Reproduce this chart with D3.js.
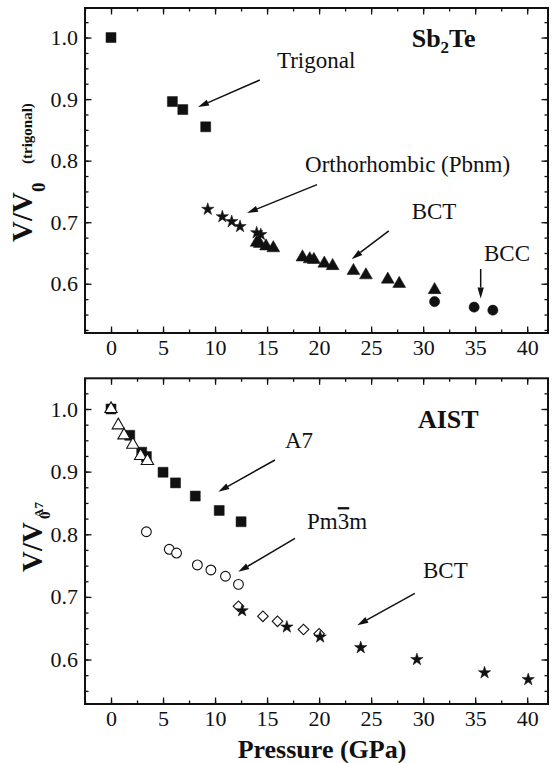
<!DOCTYPE html>
<html>
<head>
<meta charset="utf-8">
<script src="https://cdn.jsdelivr.net/npm/d3@7"></script>
<style>
  body { margin: 0; background: #fff; }
</style>
</head>
<body>
<svg id="chart" width="553" height="763"></svg>
<script>
// ---- data ----
// Sb2Te panel
const sbTrigP = [0, 5.9, 6.9, 9.1];
const sbTrigV = [1.0, 0.896, 0.883, 0.855];
const sbOrthoP = [9.3, 10.7, 11.6, 12.4, 14.0, 14.4];
const sbOrthoV = [0.721, 0.709, 0.701, 0.693, 0.683, 0.680];
const sbBctP = [14.0, 14.3, 14.9, 15.6, 18.4, 19.1, 19.5, 20.5, 21.3, 23.3, 24.5, 26.6, 27.7, 31.1];
const sbBctV = [0.667, 0.665, 0.661, 0.658, 0.643, 0.640, 0.639, 0.633, 0.629, 0.621, 0.614, 0.607, 0.600, 0.590];
const sbBccP = [31.1, 34.9, 36.7];
const sbBccV = [0.571, 0.562, 0.557];

// AIST panel
const aiA7P = [0, 1.8, 2.95, 3.4, 5.0, 6.2, 8.1, 10.4, 12.5];
const aiA7V = [1.0, 0.958, 0.931, 0.924, 0.899, 0.882, 0.861, 0.838, 0.820];
const aiA7bP = [0, 0.7, 1.25, 2.1, 2.85, 3.5];
const aiA7bV = [1.0, 0.974, 0.958, 0.943, 0.925, 0.917];
const aiPmP = [3.4, 5.6, 6.3, 8.3, 9.6, 11.0, 12.25];
const aiPmV = [0.804, 0.776, 0.770, 0.751, 0.743, 0.733, 0.720];
const aiDiaP = [12.25, 14.6, 16.0, 18.5, 20.0];
const aiDiaV = [0.685, 0.669, 0.661, 0.648, 0.641];
const aiBctP = [12.6, 16.9, 20.1, 24.0, 29.4, 35.9, 40.1];
const aiBctV = [0.678, 0.652, 0.636, 0.619, 0.600, 0.579, 0.568];

const xTicks = [0, 5, 10, 15, 20, 25, 30, 35, 40];
const yTicks = [0.6, 0.7, 0.8, 0.9, 1.0];

const FONT = "'Liberation Serif', Tinos, 'Times New Roman', Times, 'DejaVu Serif', serif";

const svg = d3.select("#chart");
const zip = (a, b) => a.map((v, i) => [v, b[i]]);

const x = d3.scaleLinear().domain([-2.5, 42]).range([85, 548]);

function panel(y, top, bottom) {
    const g = svg.append("g");
    const minorX = d3.range(-2.5, 42, 2.5);
    const minorY = d3.range(0.525, 1.05, 0.025).filter(v => v > y.domain()[0] && v < y.domain()[1]);

    // bottom axis with labels
    g.append("g").attr("transform", `translate(0,${bottom})`)
        .call(d3.axisBottom(x).tickValues(minorX).tickSize(-3.5).tickFormat(""));
    g.append("g").attr("transform", `translate(0,${bottom})`)
        .call(d3.axisBottom(x).tickValues(xTicks).tickSize(-6.5).tickPadding(6));
    // top axis, ticks only
    g.append("g").attr("transform", `translate(0,${top})`)
        .call(d3.axisTop(x).tickValues(minorX).tickSize(-3.5).tickFormat(""));
    g.append("g").attr("transform", `translate(0,${top})`)
        .call(d3.axisTop(x).tickValues(xTicks).tickSize(-6.5).tickFormat(""));
    // left axis
    g.append("g").attr("transform", `translate(${x.range()[0]},0)`)
        .call(d3.axisLeft(y).tickValues(minorY).tickSize(-3.5).tickFormat(""));
    g.append("g").attr("transform", `translate(${x.range()[0]},0)`)
        .call(d3.axisLeft(y).tickValues(yTicks).tickSize(-6.5).tickPadding(7).tickFormat(d3.format(".1f")));
    // right axis
    g.append("g").attr("transform", `translate(${x.range()[1]},0)`)
        .call(d3.axisRight(y).tickValues(minorY).tickSize(-3.5).tickFormat(""));
    g.append("g").attr("transform", `translate(${x.range()[1]},0)`)
        .call(d3.axisRight(y).tickValues(yTicks).tickSize(-6.5).tickFormat(""));

    g.selectAll(".domain").remove();
    g.selectAll(".tick line").attr("stroke", "#111").attr("stroke-width", 1.3);
    g.selectAll(".tick text")
        .attr("fill", "#111")
        .style("font-family", FONT)
        .style("font-size", "22px");

    g.append("rect")
        .attr("x", x.range()[0]).attr("y", top)
        .attr("width", x.range()[1] - x.range()[0]).attr("height", bottom - top)
        .attr("fill", "none").attr("stroke", "#111").attr("stroke-width", 2);
    return g;
}

function markers(g, y, px, py, type, size, filled, rotate) {
    g.append("g").selectAll("path")
        .data(zip(px, py))
        .join("path")
        .attr("d", d3.symbol().type(type).size(size))
        .attr("transform", d => `translate(${x(d[0])},${y(d[1])})` + (rotate ? ` rotate(${rotate})` : ""))
        .attr("fill", filled ? "#111" : "#fff")
        .attr("stroke", "#111")
        .attr("stroke-width", filled ? 0.5 : 1.1);
}

function arrow(g, y, x1, y1, x2, y2) {
    const ax = x(x1), ay = y(y1), bx = x(x2), by = y(y2);
    const ang = Math.atan2(by - ay, bx - ax);
    const len = 11, half = 3.2;
    const cx = bx - len * Math.cos(ang), cy = by - len * Math.sin(ang);
    g.append("line")
        .attr("x1", ax).attr("y1", ay).attr("x2", cx).attr("y2", cy)
        .attr("stroke", "#111").attr("stroke-width", 1.5);
    g.append("path")
        .attr("d", d3.line()([
            [bx, by],
            [cx - half * Math.sin(ang), cy + half * Math.cos(ang)],
            [cx + half * Math.sin(ang), cy - half * Math.cos(ang)]
        ]) + "Z")
        .attr("fill", "#111");
}

function label(g, y, px, py, txt, size, bold) {
    return g.append("text")
        .attr("x", x(px)).attr("y", y(py))
        .attr("fill", "#111")
        .style("font-family", FONT)
        .style("font-size", size + "px")
        .style("font-weight", bold ? "bold" : "normal")
        .text(txt);
}

// ---- top panel: Sb2Te ----
const yTop = d3.scaleLinear().domain([0.52, 1.048]).range([333, 8]);
const gTop = panel(yTop, 8, 333);

markers(gTop, yTop, sbTrigP, sbTrigV, d3.symbolSquare, 100, true);
markers(gTop, yTop, sbOrthoP, sbOrthoV, d3.symbolStar, 48, true);
markers(gTop, yTop, sbBctP, sbBctV, d3.symbolTriangle, 72, true);
markers(gTop, yTop, sbBccP, sbBccV, d3.symbolCircle, 82, true);

label(gTop, yTop, 15.95, 0.9506, "Trigonal", 23);
arrow(gTop, yTop, 14.3, 0.931, 8.36, 0.887);
const sbt = label(gTop, yTop, 28.9, 0.985, "Sb", 26, true);
sbt.append("tspan").style("font-size", "17px").attr("dy", 6).text("2");
sbt.append("tspan").attr("dy", -6).text("Te");
label(gTop, yTop, 18.65, 0.782, "Orthorhombic (Pbnm)", 23);
arrow(gTop, yTop, 19.8, 0.761, 13.07, 0.715);
label(gTop, yTop, 28.9, 0.7055, "BCT", 23);
arrow(gTop, yTop, 26.7, 0.686, 23.13, 0.640);
label(gTop, yTop, 35.85, 0.637, "BCC", 23);
arrow(gTop, yTop, 35.53, 0.624, 35.53, 0.576);

// ---- bottom panel: AIST ----
const yBot = d3.scaleLinear().domain([0.529, 1.049]).range([704, 378.3]);
const gBot = panel(yBot, 378.3, 704);

markers(gBot, yBot, aiPmP, aiPmV, d3.symbolCircle, 75, false);
markers(gBot, yBot, aiDiaP, aiDiaV, d3.symbolSquare, 56, false, 45);
markers(gBot, yBot, aiA7P, aiA7V, d3.symbolSquare, 100, true);
markers(gBot, yBot, aiA7bP, aiA7bV, d3.symbolTriangle, 66, false);
markers(gBot, yBot, aiBctP, aiBctV, d3.symbolStar, 48, true);

label(gBot, yBot, 29.5, 0.9696, "AIST", 26, true);
label(gBot, yBot, 16.72, 0.9377, "A7", 23);
arrow(gBot, yBot, 15.76, 0.9186, 10.31, 0.868);
const pm = label(gBot, yBot, 18.84, 0.8082, "Pm", 23);
pm.append("tspan").style("text-decoration", "overline").text("3");
pm.append("tspan").text("m");
arrow(gBot, yBot, 17.68, 0.7934, 12.23, 0.740);
label(gBot, yBot, 29.99, 0.730, "BCT", 23);
arrow(gBot, yBot, 29.2, 0.7055, 23.67, 0.6548);

// ---- axis titles ----
function rotText(px, py, txt, size) {
    return svg.append("text")
        .attr("transform", `translate(${px},${py}) rotate(-90)`)
        .attr("fill", "#111")
        .style("font-family", FONT)
        .style("font-size", size + "px")
        .style("font-weight", "bold")
        .text(txt);
}
rotText(32, 242, "V/V", 29);
rotText(45, 192, "0", 19);
rotText(32, 164, "(trigonal)", 15);

rotText(42, 572, "V/V", 29);
rotText(50, 519, "0", 15);
rotText(43, 518, "A7", 13);

svg.append("text")
    .attr("x", 322).attr("y", 758)
    .attr("text-anchor", "middle")
    .attr("fill", "#111")
    .style("font-family", FONT)
    .style("font-size", "26px")
    .style("font-weight", "bold")
    .text("Pressure (GPa)");
</script>
</body>
</html>
